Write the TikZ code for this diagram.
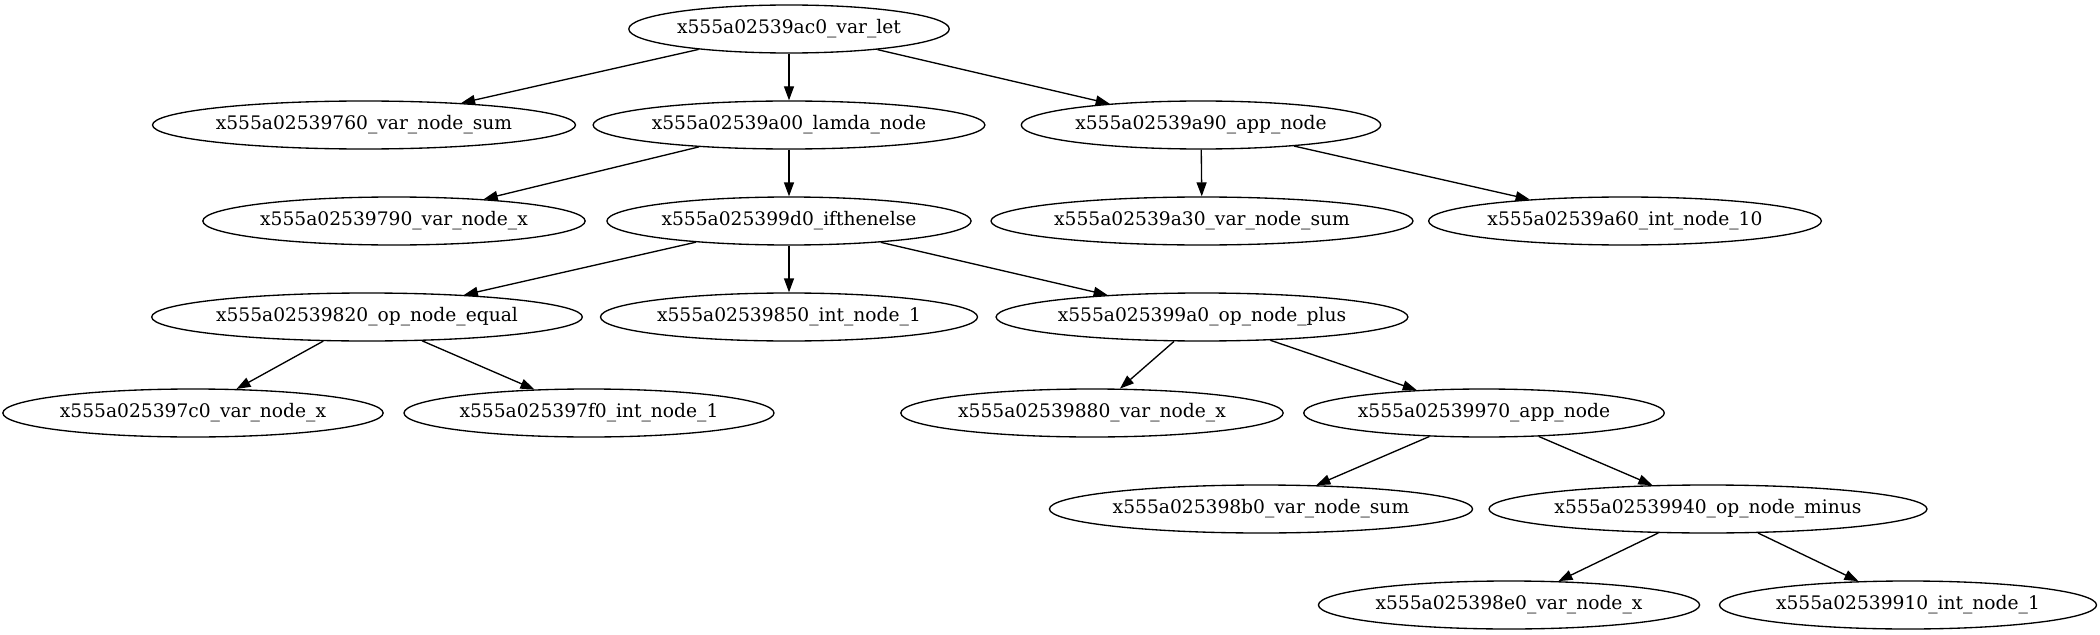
\documentclass[tikz,border=0pt]{standalone}
\usepackage{fontspec}
\setmainfont{DejaVu Serif}
\usepackage{tikz}
\usetikzlibrary{shapes.geometric,arrows.meta}
\newcommand{\rowh}{96}

\begin{document}
\begin{tikzpicture}[x=0.75pt,y=-0.75pt,
  ast/.style={ellipse,draw,line width=1pt,inner xsep=1pt,inner ysep=0pt,minimum height=36pt,font=\fontsize{14}{16}\selectfont},
  edge/.style={-{Triangle[length=10.5pt,width=7.5pt]},line width=1pt}]
\useasboundingbox (0,0) rectangle (2100,635);
\node[ast] (let) at (789,29) {x555a02539ac0\_var\_let};
\node[ast] (sum) at (364,{29+\rowh}) {x555a02539760\_var\_node\_sum};
\node[ast] (lam) at (789,{29+\rowh}) {x555a02539a00\_lamda\_node};
\node[ast] (app) at (1201,{29+\rowh}) {x555a02539a90\_app\_node};
\node[ast] (x1) at (394,{29+2*\rowh}) {x555a02539790\_var\_node\_x};
\node[ast] (ite) at (789,{29+2*\rowh}) {x555a025399d0\_ifthenelse};
\node[ast] (sum2) at (1202,{29+2*\rowh}) {x555a02539a30\_var\_node\_sum};
\node[ast] (ten) at (1625,{29+2*\rowh}) {x555a02539a60\_int\_node\_10};
\node[ast] (eq) at (367,{29+3*\rowh}) {x555a02539820\_op\_node\_equal};
\node[ast] (one1) at (789,{29+3*\rowh}) {x555a02539850\_int\_node\_1};
\node[ast] (plus) at (1202,{29+3*\rowh}) {x555a025399a0\_op\_node\_plus};
\node[ast] (x2) at (193,{29+4*\rowh}) {x555a025397c0\_var\_node\_x};
\node[ast] (one2) at (589,{29+4*\rowh}) {x555a025397f0\_int\_node\_1};
\node[ast] (x3) at (1092,{29+4*\rowh}) {x555a02539880\_var\_node\_x};
\node[ast] (app2) at (1484,{29+4*\rowh}) {x555a02539970\_app\_node};
\node[ast] (sum3) at (1261,{29+5*\rowh}) {x555a025398b0\_var\_node\_sum};
\node[ast] (minus) at (1708,{29+5*\rowh}) {x555a02539940\_op\_node\_minus};
\node[ast] (x4) at (1509,{29+6*\rowh}) {x555a025398e0\_var\_node\_x};
\node[ast] (one3) at (1908,{29+6*\rowh}) {x555a02539910\_int\_node\_1};
\draw[edge] (let) -- (sum);
\draw[edge] (let) -- (lam);
\draw[edge] (let) -- (app);
\draw[edge] (lam) -- (x1);
\draw[edge] (lam) -- (ite);
\draw[edge] (app) -- (sum2);
\draw[edge] (app) -- (ten);
\draw[edge] (ite) -- (eq);
\draw[edge] (ite) -- (one1);
\draw[edge] (ite) -- (plus);
\draw[edge] (eq) -- (x2);
\draw[edge] (eq) -- (one2);
\draw[edge] (plus) -- (x3);
\draw[edge] (plus) -- (app2);
\draw[edge] (app2) -- (sum3);
\draw[edge] (app2) -- (minus);
\draw[edge] (minus) -- (x4);
\draw[edge] (minus) -- (one3);
\end{tikzpicture}
\end{document}
